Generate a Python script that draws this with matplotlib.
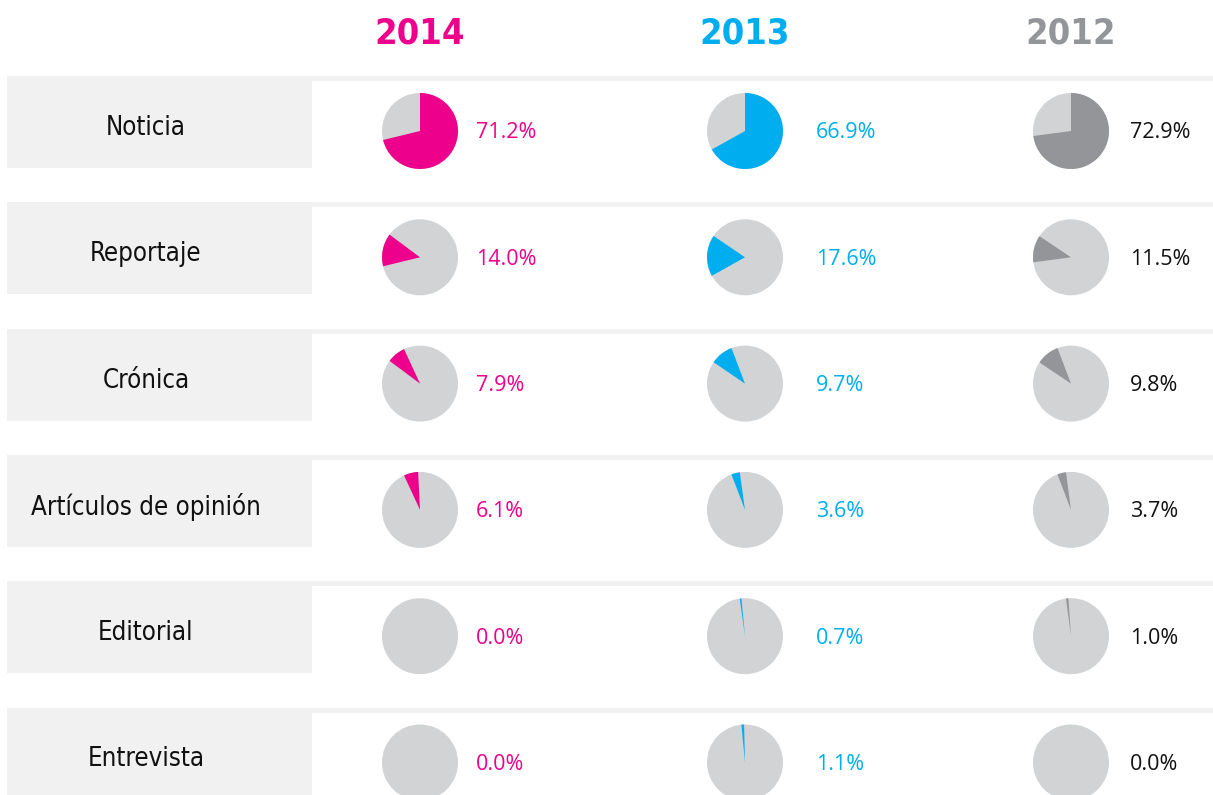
import numpy as np
import matplotlib.pyplot as plt
from matplotlib.patches import Rectangle

# data
years = ['2014', '2013', '2012']
genres = ['Noticia', 'Reportaje', 'Crónica', 'Artículos de opinión', 'Editorial', 'Entrevista']
pct_2014 = [71.2, 14.0, 7.9, 6.1, 0.0, 0.0]
pct_2013 = [66.9, 17.6, 9.7, 3.6, 0.7, 1.1]
pct_2012 = [72.9, 11.5, 9.8, 3.7, 1.0, 0.0]

series = [pct_2014, pct_2013, pct_2012]
year_colors = ['#EC008C', '#00AEEF', '#939598']
text_colors = ['#EC008C', '#00AEEF', '#111111']
pie_bg = '#D1D3D4'
box_bg = '#F1F1F1'

W, H = 1213, 795

fig = plt.figure(figsize=(W / 100, H / 100), dpi=100)
ax = fig.add_axes([0, 0, 1, 1])

col_x = [420, 745, 1071]
pct_x = [476, 816, 1130]
radius = 38
row_pitch = 126.3

# headers
for yr, c, x in zip(years, year_colors, col_x):
    ax.text(x, H - 34, yr, color=c, fontsize=26, fontweight='bold',
            family='DejaVu Sans', fontstretch='condensed', ha='center', va='center')

for i, g in enumerate(genres):
    top = 76 + i * row_pitch
    # thin band across the row + label box
    ax.add_patch(Rectangle((7, H - top - 5), W - 7, 5, color=box_bg, lw=0))
    ax.add_patch(Rectangle((7, H - top - 92), 305, 92, color=box_bg, lw=0))
    ax.text(146, H - top - 52, g, fontsize=18.5, family='DejaVu Sans', fontstretch='condensed',
            ha='center', va='center', color='#111111')

    cy = H - top - 55
    for j, vals in enumerate(series):
        before = sum(vals[:i])
        ax.pie([1], colors=[pie_bg], center=(col_x[j], cy), radius=radius,
               wedgeprops=dict(linewidth=0))
        if vals[i] > 0:
            ax.pie([vals[i] / 100], colors=[year_colors[j]], center=(col_x[j], cy),
                   radius=radius, startangle=90 - 3.6 * before, counterclock=False,
                   normalize=False, wedgeprops=dict(linewidth=0))
        ax.text(pct_x[j], cy - 2, f'{vals[i]:.1f}%', fontsize=15.5, family='Open Sans',
                fontstretch='normal', color=text_colors[j], ha='left', va='center')

ax.set_xlim(0, W)
ax.set_ylim(0, H)
ax.set_aspect('auto')
ax.axis('off')

fig.savefig('out.png', dpi=100, facecolor='white')
